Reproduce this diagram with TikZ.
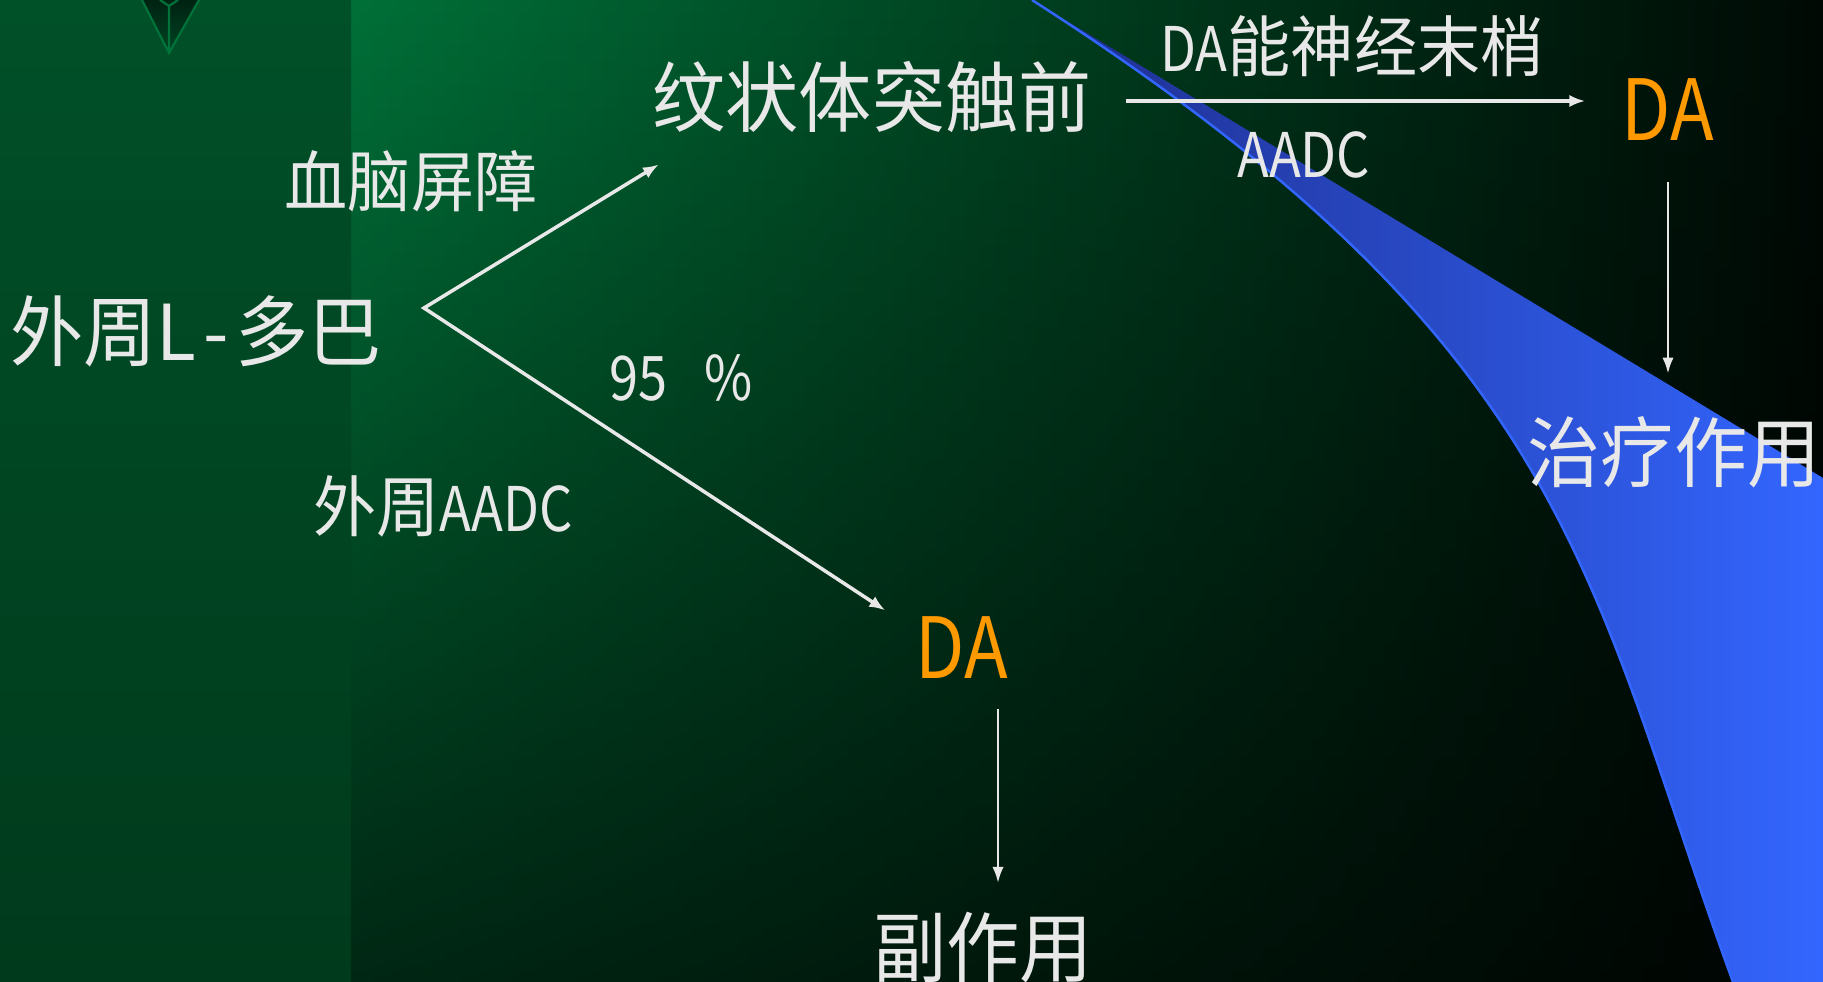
\documentclass[tikz,border=0pt]{standalone}
\usepackage{fontspec}
\newfontfamily\cjk[FakeStretch=0.95]{Noto Sans CJK SC}
\newfontfamily\cjklat[FakeStretch=0.85]{Noto Sans CJK SC}
\usetikzlibrary{arrows.meta,fadings}

\definecolor{txtgrey}{RGB}{232,232,232}
\definecolor{daorange}{RGB}{255,153,0}
\definecolor{bgleft}{RGB}{0,112,56}
\definecolor{bgmid}{RGB}{0,82,41}
\definecolor{bgright}{RGB}{0,10,5}
\definecolor{striptop}{RGB}{0,80,40}
\definecolor{stripmid}{RGB}{0,122,62}
\definecolor{stripbot}{RGB}{0,58,28}
\definecolor{bluedark}{RGB}{30,45,140}
\definecolor{bluelight}{RGB}{51,102,255}
\definecolor{trigreen}{RGB}{0,115,58}

\tikzfading[name=fadedown, top color=transparent!100, bottom color=transparent!35]

\newcommand{\latpart}[1]{{\cjklat\fontsize{17.5}{20}\selectfont #1}}

\tikzset{
  bigtxt/.style={text=txtgrey, inner sep=0pt, font=\cjk\fontsize{21.9}{26}\selectfont},
  smalltxt/.style={text=txtgrey, inner sep=0pt, font=\cjk\fontsize{18.9}{22}\selectfont},
  datxt/.style={text=daorange, inner sep=0pt, font=\cjklat\fontsize{24}{28}\selectfont},
  latxt/.style={text=txtgrey, inner sep=0pt, font=\cjklat\fontsize{17.5}{20}\selectfont},
  arr/.style={draw=txtgrey, line width=1pt, -{Latex[length=4.5pt,width=3.5pt]}},
  twoarr/.style={draw=txtgrey, line width=1pt, {Latex[length=4.5pt,width=3.5pt]}-{Latex[length=4.5pt,width=3.5pt]}},
  thinarr/.style={draw=txtgrey, line width=0.65pt, -{Latex[length=4.5pt,width=3.2pt]}},
}

\begin{document}
\begin{tikzpicture}[x=0.01cm, y=-0.01cm]

    \useasboundingbox (0,0) rectangle (1823,982);


    \begin{scope}[]
    
    \shade[left color=bgleft, middle color=bgmid, right color=bgright] (351,0) rectangle (1823,982);
    \fill[black, path fading=fadedown] (351,0) rectangle (1823,982);
    \shade[top color=striptop, middle color=stripmid, bottom color=stripbot] (0,0) rectangle (351,982);
    
    \end{scope}
    
    
    
    \begin{scope}[]
    
    \fill[top color=black!70!trigreen, bottom color=black!40!trigreen] (142,0) -- (199,0) -- (169,53) -- cycle;
    \draw[trigreen, line width=0.6pt] (142,0) -- (169,53) -- (199,0) (169,50) -- (169,6) -- (160,0) (169,6) -- (178,0);
    
    \end{scope}
    
    
    
    \begin{scope}[]
    
    \shade[left color=bluedark, right color=bluelight] (1032,0) -- (1823,478) -- (1823,982) -- (1733,982) .. controls (1587,582) and (1578,350) .. (1032,0) -- cycle;
    \draw[bluelight, line width=0.7pt] (1733,982) .. controls (1587,582) and (1578,350) .. (1032,0);
    
    \end{scope}
    
    
    
    \node[bigtxt] (ldopa) at (196,331) {外周{\cjk L\hspace{0.1em}-\hspace{0.08em}}多巴};
    \node[smalltxt] (bbb) at (411,181) {血脑屏障};
    \node[bigtxt] (striatum) at (872,97) {纹状体突触前};
    \node[smalltxt] (nerve) at (1352,46) {\latpart{DA}能神经末梢};
    \node[latxt] (aadc) at (1304,155) {AADC};
    \node[datxt] (datop) at (1668,110) {DA};
    \node[bigtxt] (therapy) at (1674,452) {治疗作用};
    \node[latxt] (pct) at (681,378) {95\hspace{0.6em}\%};
    \node[smalltxt] (paadc) at (443,506) {外周\latpart{AADC}};
    \node[datxt] (dabot) at (962,648) {DA};
    \node[bigtxt] (side) at (983,948) {副作用};
    
    \coordinate (fork) at (424,308);
    
    
    \draw[twoarr] ([xshift=0.07cm, yshift=-0.31cm]striatum.south west) -- (fork) -- ([xshift=-0.30cm, yshift=0.06cm]dabot.north west);
    
    \draw[arr, shorten <=0.34cm, shorten >=0.36cm] ([yshift=-0.04cm]striatum.east) -- ([yshift=-0.04cm]striatum.east -| datop.west);
    
    \draw[thinarr, shorten <=0.4cm, shorten >=0.42cm] (datop.south) -- (datop.south |- therapy.north);
    \draw[thinarr, shorten <=0.29cm, shorten >=0.29cm] ([xshift=0.36cm]dabot.south) -- ([xshift=0.36cm]dabot.south |- side.north);
    
    \end{tikzpicture}
\end{document}
